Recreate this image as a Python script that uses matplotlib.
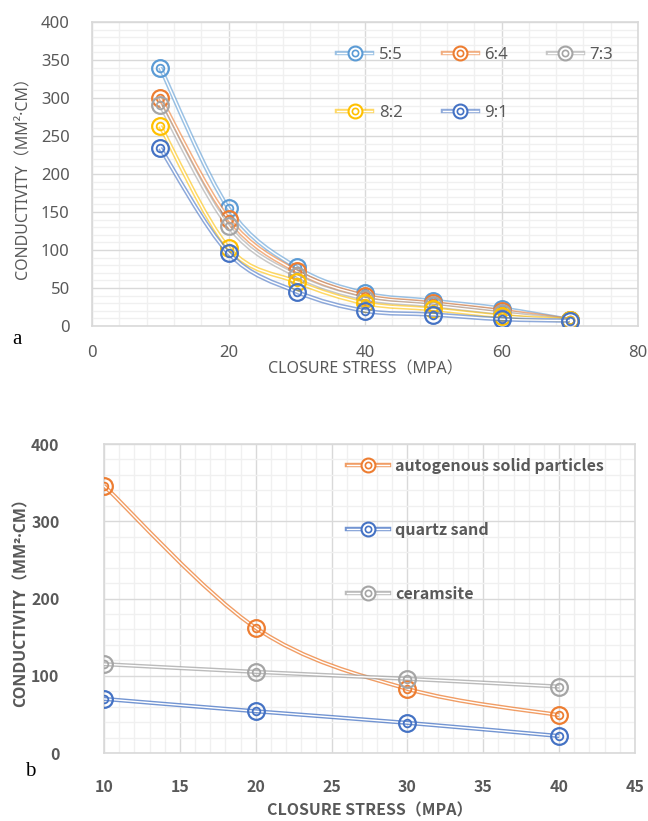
import matplotlib
matplotlib.use("Agg")
import matplotlib.pyplot as plt
import numpy as np
from matplotlib.lines import Line2D
from matplotlib.patches import PathPatch
from matplotlib.path import Path
from matplotlib.legend_handler import HandlerTuple
from matplotlib.ticker import MultipleLocator

plt.rcParams["font.family"] = ["Noto Sans", "Noto Sans CJK SC", "DejaVu Sans"]
BOLD_FAM = ["Noto Sans CJK SC", "DejaVu Sans"]
LABEL_BOLD_FAM = ["Open Sans", "Noto Sans CJK SC", "DejaVu Sans"]

# ---- panel a: proppant ratio series -----------------------------------------
STRESS_A = [10, 20, 30, 40, 50, 60, 70]
RATIOS = ["5:5", "6:4", "7:3", "8:2", "9:1"]
COND_A = {
    "5:5": [340, 155, 77, 43, 33, 23, 8],
    "6:4": [300, 141, 72, 40, 30, 20, 8],
    "7:3": [291, 131, 66, 36, 27, 17, 8],
    "8:2": [263, 103, 58, 30, 22, 13, 8],
    "9:1": [234, 96, 45, 20, 15, 9, 7],
}
COLORS_A = {"5:5": "#5B9BD5", "6:4": "#ED7D31", "7:3": "#A5A5A5",
            "8:2": "#FFC000", "9:1": "#4472C4"}

# ---- panel b: proppant type series ------------------------------------------
STRESS_B = [10, 20, 30, 40]
TYPES = ["autogenous solid particles", "quartz sand", "ceramsite"]
COND_B = {
    "autogenous solid particles": [346, 162, 83, 49],
    "quartz sand": [70, 54, 39, 22],
    "ceramsite": [115, 105, 96, 86],
}
COLORS_B = {"autogenous solid particles": "#ED7D31", "quartz sand": "#4472C4",
            "ceramsite": "#A5A5A5"}

TXT = "#595959"
GRID_MAJ, GRID_MIN = "#D9D9D9", "#F0F0F0"


def smooth_path(x, y):
    """Excel-style smoothed line as cubic Bezier segments."""
    pts = np.column_stack([x, y]).astype(float)
    p = np.vstack([pts[0], pts, pts[-1]])
    verts, codes = [pts[0]], [Path.MOVETO]
    for i in range(1, len(p) - 2):
        c1 = p[i] + (p[i + 1] - p[i - 1]) / 6
        c2 = p[i + 1] - (p[i + 2] - p[i]) / 6
        verts += [c1, c2, p[i + 1]]
        codes += [Path.CURVE4] * 3
    return Path(verts, codes)


def draw_series(ax, x, y, color, z, lw_out=3.4, alpha=1.0):
    path = smooth_path(x, y)
    ax.add_patch(PathPatch(path, fill=False, ec=color, lw=lw_out,
                           alpha=alpha, zorder=z))
    ax.add_patch(PathPatch(path, fill=False, ec="white", lw=1.0, zorder=z + 0.1))
    ax.plot(x, y, "o", ms=12, mfc="none", mec=color, mew=1.6, zorder=z + 0.2)
    ax.plot(x, y, "o", ms=5.5, mfc="none", mec=color, mew=1.3, zorder=z + 0.3)


def legend_handle(color, alpha=1.0, ms=10):
    return (Line2D([], [], color=color, lw=3.2, alpha=alpha),
            Line2D([], [], color="white", lw=1.0),
            Line2D([], [], ls="none", marker="o", ms=ms, mfc="white",
                   mec=color, mew=1.5),
            Line2D([], [], ls="none", marker="o", ms=4.5, mfc="none",
                   mec=color, mew=1.2))


def style_axes(ax, bold=False):
    ax.grid(which="major", color=GRID_MAJ, lw=1.0, zorder=0)
    ax.grid(which="minor", color=GRID_MIN, lw=1.0, zorder=0)
    ax.set_axisbelow(True)
    for s in ax.spines.values():
        s.set_color(GRID_MAJ)
        s.set_linewidth(1.2)
    ax.tick_params(which="both", length=0, colors=TXT)
    if bold:
        for lab in ax.get_xticklabels() + ax.get_yticklabels():
            lab.set_fontweight("bold")
            lab.set_family(BOLD_FAM)


fig = plt.figure(figsize=(6.48, 8.21), dpi=100)

# ---------------- panel a ----------------
ax = fig.add_axes([92 / 648, 1 - 326 / 821, 546 / 648, 304 / 821])
for i, r in enumerate(RATIOS):
    draw_series(ax, STRESS_A, COND_A[r], COLORS_A[r], 3 + i, lw_out=3.2,
                alpha=0.6)
ax.set_xlim(0, 80)
ax.set_ylim(0, 400)
ax.xaxis.set_major_locator(MultipleLocator(20))
ax.xaxis.set_minor_locator(MultipleLocator(4))
ax.yaxis.set_major_locator(MultipleLocator(50))
ax.yaxis.set_minor_locator(MultipleLocator(10))
ax.tick_params(axis="both", labelsize=12)
ax.tick_params(axis="x", pad=14)
ax.tick_params(axis="y", pad=16)
style_axes(ax)
ax.set_xlabel("CLOSURE STRESS（MPA）", fontsize=11.5, color=TXT, labelpad=0)
ax.set_ylabel("CONDUCTIVITY（MM²·CM）", fontsize=11.5, color=TXT, labelpad=7)
# column-major fill, so order gives rows 5:5 6:4 7:3 / 8:2 9:1
leg_order = ["5:5", "8:2", "6:4", "9:1", "7:3"]
ax.legend([legend_handle(COLORS_A[r], alpha=0.6) for r in leg_order], leg_order,
          handler_map={tuple: HandlerTuple(ndivide=1, pad=0)},
          ncol=3, frameon=False, fontsize=12, labelcolor=TXT,
          handlelength=2.1, handletextpad=0.4, columnspacing=2.4,
          labelspacing=2.5, borderpad=0, borderaxespad=0,
          loc="upper left", bbox_to_anchor=(337 / 648, 1 - 47 / 821),
          bbox_transform=fig.transFigure)
fig.text(12 / 648, 1 - 340 / 821, "a", fontsize=15, family="Liberation Serif",
         ha="left", va="center")

# ---------------- panel b ----------------
ax = fig.add_axes([104 / 648, 1 - 753 / 821, 531 / 648, 309 / 821])
for i, t in enumerate(TYPES):
    draw_series(ax, STRESS_B, COND_B[t], COLORS_B[t], 3 + i, lw_out=3.0,
                alpha=0.75)
ax.set_xlim(10, 45)
ax.set_ylim(0, 400)
ax.xaxis.set_major_locator(MultipleLocator(5))
ax.xaxis.set_minor_locator(MultipleLocator(1))
ax.yaxis.set_major_locator(MultipleLocator(100))
ax.yaxis.set_minor_locator(MultipleLocator(20))
ax.tick_params(axis="both", labelsize=11.5)
ax.tick_params(axis="x", pad=19)
ax.tick_params(axis="y", pad=32)
style_axes(ax, bold=True)
ax.set_xlabel("CLOSURE STRESS（MPA）", fontsize=11.5, color=TXT,
              fontweight="bold", family=BOLD_FAM, labelpad=5)
ax.set_ylabel("CONDUCTIVITY（MM²·CM）", fontsize=11.5, color=TXT,
              fontweight="bold", family=LABEL_BOLD_FAM, labelpad=1)
ax.legend([legend_handle(COLORS_B[t], alpha=0.75) for t in TYPES], TYPES,
          handler_map={tuple: HandlerTuple(ndivide=1, pad=0)},
          frameon=False,
          prop={"size": 11.5, "weight": "bold", "family": BOLD_FAM},
          labelcolor=TXT, handlelength=2.6, handletextpad=0.4,
          labelspacing=3.0, borderpad=0, borderaxespad=0,
          loc="upper left", bbox_to_anchor=(347 / 648, 1 - 458 / 821),
          bbox_transform=fig.transFigure)
fig.text(25 / 648, 1 - 771 / 821, "b", fontsize=15, family="Liberation Serif",
         ha="left", va="center")

fig.savefig("out.png", dpi=100)
